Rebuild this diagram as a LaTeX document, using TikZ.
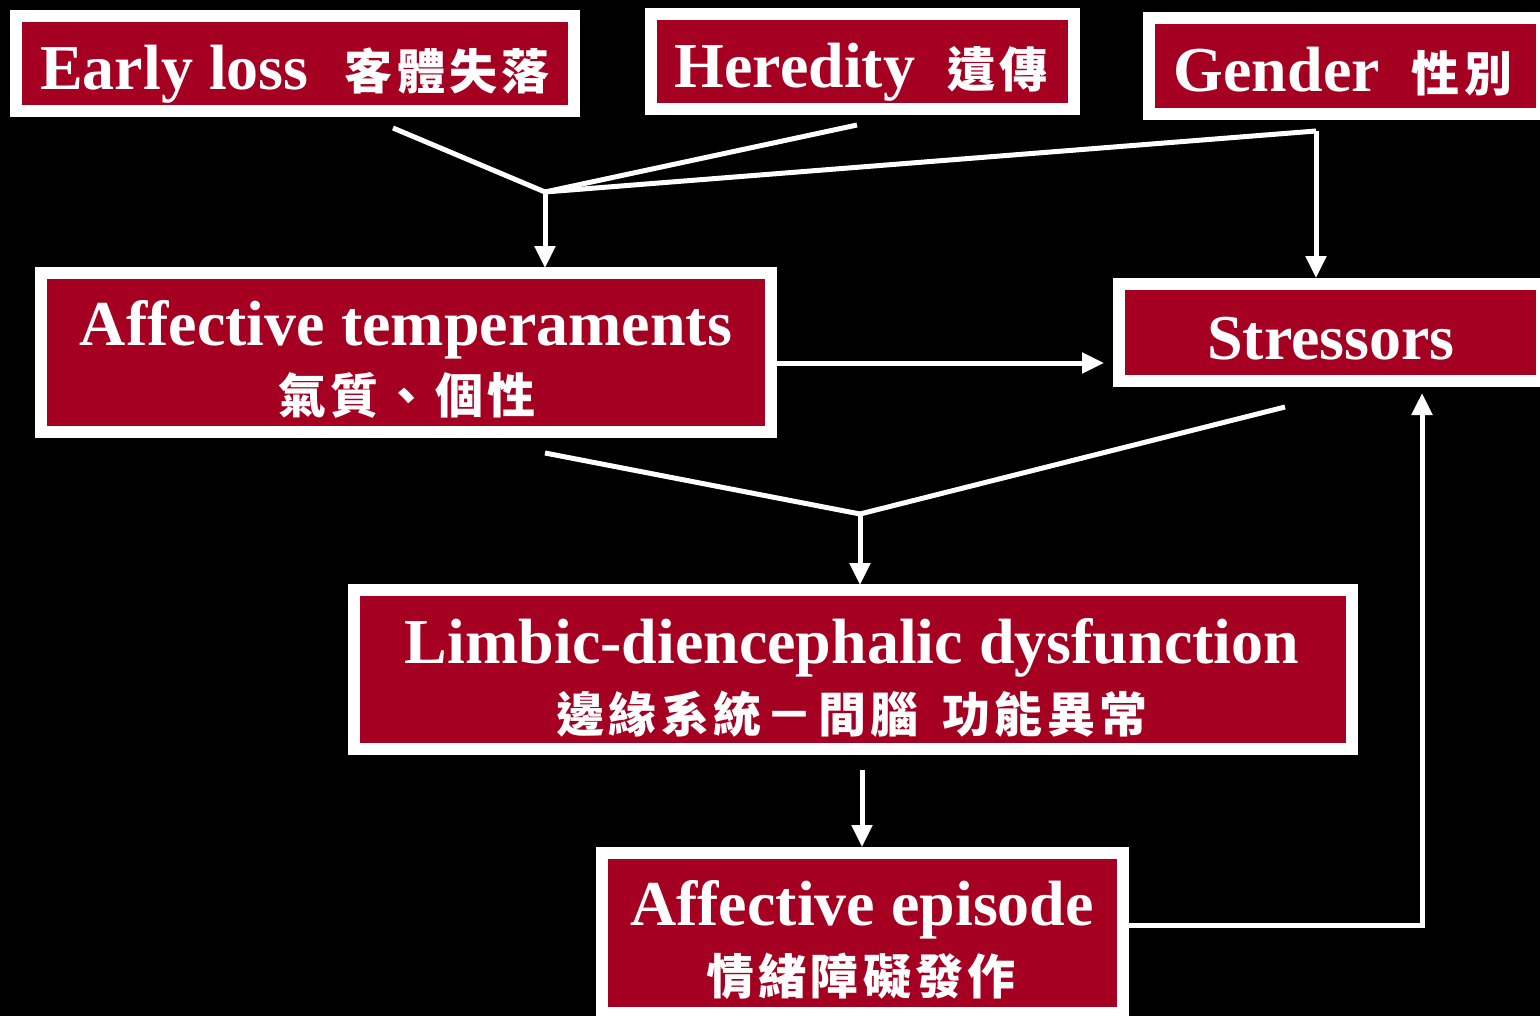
\documentclass[tikz,border=0pt]{standalone}
\usepackage{fontspec}
\setmainfont{Liberation Serif}
\newfontfamily\cjk[LetterSpace=9]{Noto Sans CJK TC}
\usetikzlibrary{arrows.meta}
\definecolor{boxred}{HTML}{A50021}
\newcommand{\zhtext}[1]{{\fontsize{24}{28}\selectfont\cjk\bfseries #1}}
\begin{document}
\begin{tikzpicture}[x=0.5pt,y=-0.5pt,
  box/.style={draw=white,line width=6pt,fill=boxred,inner sep=0pt,minimum width=#1},
  en/.style={text=white,anchor=base,inner sep=0pt,font=\fontsize{32}{36}\selectfont\bfseries},
  zh/.style={text=white,anchor=base,inner sep=0pt,font=\fontsize{24}{28}\selectfont\cjk\bfseries},
  conn/.style={draw=white,line width=2.5pt},
  arr/.style={conn,-{Triangle[width=10pt,length=11pt]}}]
\fill[black] (0,0) rectangle (1540,1016);
\useasboundingbox (0,0) rectangle (1540,1016);
% boxes
\node[box=279pt,minimum height=47.5pt] (early) at (295,63.5) {};
\node[box=211.5pt,minimum height=47.5pt] (hered) at (862.5,61.5) {};
\node[box=196.5pt,minimum height=48pt] (gender) at (1345.5,66) {};
\node[box=365pt,minimum height=79.5pt] (temper) at (406,352.5) {};
\node[box=211.5pt,minimum height=48.5pt] (stress) at (1330.5,332.5) {};
\node[box=499pt,minimum height=79.5pt] (limbic) at (853,669.5) {};
\node[box=260.5pt,minimum height=80pt] (episode) at (862.5,933) {};
% texts
\node[en] (t1) at (295,90) {Early loss\hspace{18pt}\zhtext{客體失落}};
\node[en] (t2) at (861,88) {Heredity\hspace{16pt}\zhtext{遺傳}};
\node[en] (t3) at (1343,92) {Gender\hspace{16pt}\zhtext{性別}};
\node[en] (t4) at (406,345) {Affective temperaments};
\node[zh] (t5) at (407,413) {氣質、個性};
\node[en] (t6) at (1331,359) {Stressors};
\node[en] (t7) at (852,663) {Limbic-diencephalic dysfunction};
\node[zh] (t8) at (852,732) {邊緣系統－間腦\hspace{12pt}功能異常};
\node[en] (t9) at (862,925) {Affective episode};
\node[zh] (t10) at (861,994) {情緒障礙發作};
% connector points
\coordinate (e1) at (393,128);
\coordinate (h1) at (857,125);
\coordinate (g1) at (1316,131);
\coordinate (j1) at (545,192);
\coordinate (ta) at (545,268);
\coordinate (sa) at (1316,278);
\coordinate (s1) at (1104,363);
\coordinate (tb) at (545,453);
\coordinate (sb) at (1285,407);
\coordinate (j2) at (860,514);
\coordinate (la) at (860,585);
\coordinate (lb) at (862,770);
\coordinate (ea) at (862,847);
\coordinate (c1) at (1422,925);
\coordinate (sc) at (1422,393);
% connectors
\draw[conn] (e1) -- (j1);
\draw[conn] (h1) -- (j1);
\draw[conn] (g1) -- (j1);
\draw[arr] (j1) -- (ta);
\draw[arr] (g1) -- (sa);
\draw[arr] (temper.east |- s1) -- (s1);
\draw[conn] (tb) -- (j2);
\draw[conn] (sb) -- (j2);
\draw[arr] (j2) -- (la);
\draw[arr] (lb) -- (ea);
\draw[conn,-{Triangle[width=10pt,length=11pt]}] (episode.east |- c1) -- (c1) -- (sc);
\end{tikzpicture}
\end{document}
